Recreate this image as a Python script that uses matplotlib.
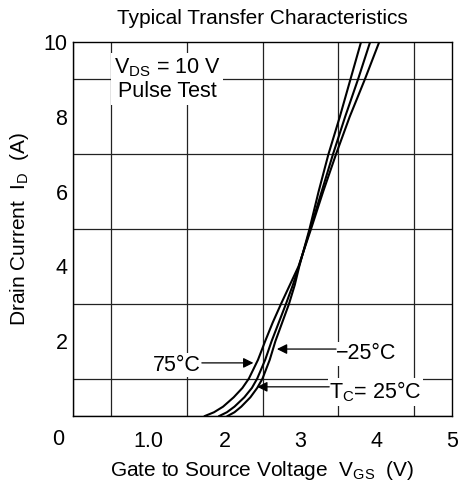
import numpy as np
import matplotlib
matplotlib.use('Agg')
import matplotlib.pyplot as plt

plt.rcParams['font.family'] = ['Liberation Sans', 'DejaVu Sans']
plt.rcParams['mathtext.fontset'] = 'custom'
plt.rcParams['mathtext.rm'] = 'Liberation Sans'
plt.rcParams['mathtext.it'] = 'Liberation Sans'

# drain current (A) levels where the curves were read
i_d = [0, 0.1, 0.25, 0.5, 0.75, 1, 1.5, 2, 2.5, 3, 3.5, 4, 5, 6, 7, 8, 9, 10]
# gate voltage (V) of each curve at those current levels
vgs_75 = [1.74, 1.86, 1.98, 2.12, 2.235, 2.32, 2.44, 2.535, 2.635, 2.745, 2.86, 2.975,
          3.14, 3.30, 3.47, 3.65, 3.85, 4.04]
vgs_25 = [1.93, 2.03, 2.13, 2.26, 2.36, 2.43, 2.535, 2.62, 2.715, 2.81, 2.90, 2.98,
          3.13, 3.28, 3.43, 3.59, 3.76, 3.92]
vgs_m25 = [2.04, 2.13, 2.22, 2.34, 2.43, 2.50, 2.595, 2.67, 2.76, 2.85, 2.925, 2.985,
           3.12, 3.24, 3.37, 3.52, 3.66, 3.80]

x_ticks = [1, 2, 3, 4, 5]
x_ticklabels = ['1.0', '2', '3', '4', '5']
y_ticks = [2, 4, 6, 8, 10]

fig = plt.figure(figsize=(4.6, 4.83), dpi=100)
ax = fig.add_axes([73 / 460, 67 / 483, 379 / 460, 374 / 483])

for v in [vgs_75, vgs_25, vgs_m25]:
    ax.plot(v, i_d, color='black', lw=1.5, zorder=3)

ax.set_xlim(0, 5)
ax.set_ylim(0, 10)
ax.set_xticks(np.arange(0, 5.01, 0.5), minor=True)
ax.set_yticks(np.arange(0, 10.01, 1), minor=True)
ax.grid(which='minor', color='#222222', lw=0.9)
ax.set_xticks(x_ticks)
ax.set_xticklabels(x_ticklabels)
ax.set_yticks(y_ticks)
ax.tick_params(which='both', length=0, labelsize=15.5)
ax.tick_params(axis='x', pad=11)
ax.tick_params(axis='y', pad=4)
for s in ax.spines.values():
    s.set_linewidth(1.0)
ax.set_axisbelow(True)

ax.text(-0.04, -0.064, '0', transform=ax.transAxes, ha='center', va='center', fontsize=15.5)

ax.set_title('Typical Transfer Characteristics', fontsize=15, pad=13)
ax.set_xlabel(r'Gate to Source Voltage  $\mathregular{V_{GS}}$  (V)', fontsize=15, labelpad=5)
ax.set_ylabel(r'Drain Current  $\mathregular{I_D}$  (A)', fontsize=15, labelpad=9)

white = dict(facecolor='white', edgecolor='none', pad=1.0)
ax.text(1.24, 9.0, '$\\mathregular{V_{DS}}$ = 10 V\nPulse Test', ha='center', va='center',
        fontsize=15.5, linespacing=1.15, bbox=dict(facecolor='white', edgecolor='none', pad=2),
        zorder=4)

arrow = dict(arrowstyle='-|>', color='black', lw=0.9, mutation_scale=15, shrinkA=0, shrinkB=0)
ax.text(1.37, 1.36, '75°C', ha='center', va='center', fontsize=15.5, bbox=white, zorder=4)
ax.annotate('', xy=(2.38, 1.42), xytext=(1.70, 1.42), arrowprops=arrow, zorder=4)
ax.text(3.47, 1.66, '−25°C', ha='left', va='center', fontsize=15.5, bbox=white, zorder=4)
ax.annotate('', xy=(2.69, 1.79), xytext=(3.47, 1.79), arrowprops=arrow, zorder=4)
ax.text(3.38, 0.64, '$\\mathregular{T_C}$= 25°C', ha='left', va='center', fontsize=15.5,
        bbox=white, zorder=4)
ax.annotate('', xy=(2.43, 0.78), xytext=(3.38, 0.78), arrowprops=arrow, zorder=4)

fig.savefig('out.png', dpi=100)
